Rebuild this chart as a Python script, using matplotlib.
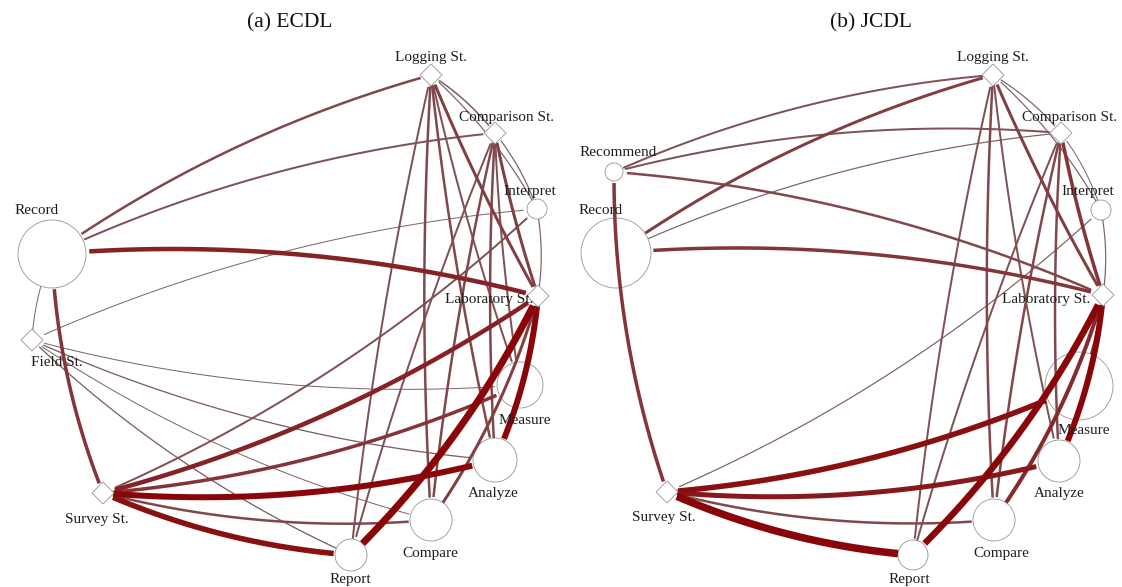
import numpy as np
import matplotlib
matplotlib.use("Agg")
import matplotlib.pyplot as plt
from matplotlib.patches import Circle, Polygon
from matplotlib.colors import to_rgb

plt.rcParams["font.family"] = ["Liberation Serif", "DejaVu Serif"]

# ---- (a) ECDL: node layout (pixel units), radius 0 = diamond node ----
ecdl_nodes = ["Logging St.", "Comparison St.", "Interpret", "Laboratory St.", "Measure",
              "Analyze", "Compare", "Report", "Survey St.", "Field St.", "Record"]
ecdl_x = [431, 495, 537, 538, 520, 495, 431, 351, 103, 32, 52]
ecdl_y = [75, 133, 209, 296, 385, 460, 520, 555, 493, 340, 254]
ecdl_radius = [0, 0, 10, 0, 23, 22, 21, 16, 0, 0, 34]
ecdl_label_x = [431, 507, 530, 489, 525, 493, 430, 350, 97, 57, 37]
ecdl_label_y = [57, 117, 191, 299, 420, 493, 553, 580, 519, 363, 211]

ecdl_edges = [
    ("Record", "Logging St.", 2.5), ("Record", "Comparison St.", 2.0),
    ("Record", "Laboratory St.", 4.5), ("Record", "Survey St.", 3.5),
    ("Record", "Field St.", 1.0),
    ("Field St.", "Interpret", 1.0), ("Field St.", "Measure", 1.0),
    ("Field St.", "Analyze", 1.3), ("Field St.", "Compare", 1.0),
    ("Field St.", "Report", 1.3),
    ("Survey St.", "Interpret", 2.0), ("Survey St.", "Laboratory St.", 4.5),
    ("Survey St.", "Measure", 3.5), ("Survey St.", "Analyze", 6.0),
    ("Survey St.", "Compare", 2.5), ("Survey St.", "Report", 5.5),
    ("Report", "Laboratory St.", 7.0), ("Report", "Logging St.", 2.0),
    ("Report", "Comparison St.", 2.0),
    ("Compare", "Laboratory St.", 3.0), ("Compare", "Logging St.", 2.5),
    ("Compare", "Comparison St.", 2.5),
    ("Analyze", "Laboratory St.", 6.0), ("Analyze", "Logging St.", 2.5),
    ("Analyze", "Comparison St.", 2.5),
    ("Measure", "Logging St.", 2.0), ("Measure", "Comparison St.", 2.0),
    ("Logging St.", "Laboratory St.", 3.0), ("Logging St.", "Comparison St.", 1.5),
    ("Logging St.", "Interpret", 1.2),
    ("Comparison St.", "Laboratory St.", 3.0), ("Comparison St.", "Interpret", 1.2),
    ("Interpret", "Laboratory St.", 1.2),
]

# ---- (b) JCDL ----
jcdl_nodes = ["Logging St.", "Comparison St.", "Interpret", "Laboratory St.", "Measure",
              "Analyze", "Compare", "Report", "Survey St.", "Record", "Recommend"]
jcdl_x = [432, 500, 540, 542, 518, 498, 433, 352, 106, 55, 53]
jcdl_y = [75, 133, 210, 295, 386, 461, 520, 555, 492, 253, 172]
jcdl_radius = [0, 0, 10, 0, 34, 21, 21, 15, 0, 35, 9]
jcdl_label_x = [432, 508, 527, 485, 523, 498, 440, 348, 103, 40, 57]
jcdl_label_y = [57, 117, 191, 299, 431, 493, 553, 580, 517, 211, 153]

jcdl_edges = [
    ("Recommend", "Logging St.", 2.0), ("Recommend", "Comparison St.", 2.0),
    ("Recommend", "Laboratory St.", 2.5), ("Recommend", "Survey St.", 3.5),
    ("Record", "Logging St.", 3.0), ("Record", "Comparison St.", 1.2),
    ("Record", "Laboratory St.", 3.5),
    ("Survey St.", "Interpret", 1.2), ("Survey St.", "Measure", 5.5),
    ("Survey St.", "Analyze", 5.0), ("Survey St.", "Compare", 2.5),
    ("Survey St.", "Report", 7.5),
    ("Report", "Laboratory St.", 6.5), ("Report", "Logging St.", 2.0),
    ("Report", "Comparison St.", 2.0),
    ("Compare", "Laboratory St.", 4.0), ("Compare", "Logging St.", 2.5),
    ("Compare", "Comparison St.", 2.5),
    ("Analyze", "Laboratory St.", 6.0), ("Analyze", "Logging St.", 2.0),
    ("Analyze", "Comparison St.", 2.5),
    ("Measure", "Laboratory St.", 3.0),
    ("Logging St.", "Laboratory St.", 3.0), ("Logging St.", "Comparison St.", 1.2),
    ("Logging St.", "Interpret", 1.2),
    ("Comparison St.", "Laboratory St.", 3.5), ("Comparison St.", "Interpret", 1.0),
    ("Interpret", "Laboratory St.", 1.2),
]

THIN = np.array(to_rgb("#7d6567"))
THICK = np.array(to_rgb("#8a0508"))
PX = 72 / 100  # points per pixel at dpi 100
DIAMOND = 11

# edges hanging down from the two upper hubs are drawn almost straight
HUBS = {"Logging St.", "Comparison St."}
LOWER = {"Laboratory St.", "Measure", "Analyze", "Compare", "Report"}


def edge_color(w):
    t = np.clip((w - 1.0) / 5.0, 0, 1)
    return THIN + (THICK - THIN) * t


def curve(p0, p1, center, bend, n=120):
    p0, p1 = np.asarray(p0, float), np.asarray(p1, float)
    mid = (p0 + p1) / 2
    d = p1 - p0
    normal = np.array([-d[1], d[0]])
    # bow edges outwards, away from the middle of the ring
    if np.dot(normal, mid - center) < 0:
        normal = -normal
    ctrl = mid + bend * normal
    t = np.linspace(0, 1, n)[:, None]
    return (1 - t) ** 2 * p0 + 2 * (1 - t) * t * ctrl + t ** 2 * p1


def draw_network(ax, names, xs, ys, radius, lx, ly, edges, title, title_x):
    pos = {n: (x, y) for n, x, y in zip(names, xs, ys)}
    rad = {n: (r if r > 0 else DIAMOND - 2) for n, r in zip(names, radius)}
    center = np.array([300.0, 320.0])

    for x, y, r in zip(xs, ys, radius):
        if r > 0:
            ax.add_patch(Circle((x, y), r, facecolor="white", edgecolor="#959595",
                                lw=0.6, zorder=1))
        else:
            d = DIAMOND
            ax.add_patch(Polygon([(x - d, y), (x, y - d), (x + d, y), (x, y + d)],
                                 closed=True, facecolor="white", edgecolor="#959595",
                                 lw=0.6, zorder=4))

    for a, b, w in sorted(edges, key=lambda e: e[2]):
        hub_edge = (a in HUBS and b in LOWER) or (b in HUBS and a in LOWER)
        bend = -0.03 if hub_edge else 0.085
        pts = curve(pos[a], pos[b], center, bend)
        da = np.hypot(*(pts - pos[a]).T)
        db = np.hypot(*(pts - pos[b]).T)
        seg = pts[(da > rad[a]) & (db > rad[b])]
        ax.plot(seg[:, 0], seg[:, 1], color=edge_color(w), lw=w * PX,
                solid_capstyle="butt", zorder=2 + w / 10)

    for n, x, y in zip(names, lx, ly):
        ax.text(x, y, n, ha="center", va="center", fontsize=11, color="#1e1e1e",
                zorder=6)
    ax.text(title_x, 23, title, ha="center", va="center", fontsize=15.5, color="#111111")

    ax.set_xlim(0, 561)
    ax.set_ylim(587, 0)
    ax.axis("off")


fig = plt.figure(figsize=(11.22, 5.87), dpi=100)
ax_a = fig.add_axes([0, 0, 0.5, 1])
ax_b = fig.add_axes([0.5, 0, 0.5, 1])

draw_network(ax_a, ecdl_nodes, ecdl_x, ecdl_y, ecdl_radius, ecdl_label_x, ecdl_label_y,
             ecdl_edges, "(a) ECDL", 290)
draw_network(ax_b, jcdl_nodes, jcdl_x, jcdl_y, jcdl_radius, jcdl_label_x, jcdl_label_y,
             jcdl_edges, "(b) JCDL", 310)

fig.savefig("out.png", dpi=100, facecolor="white")
plt.close(fig)
